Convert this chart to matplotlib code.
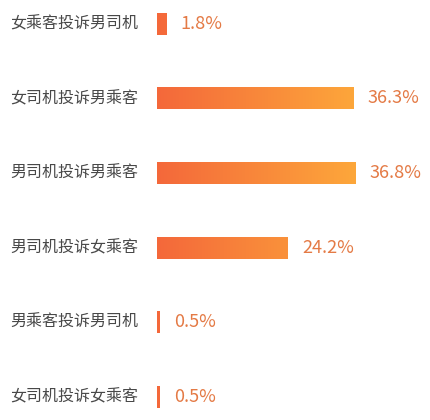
import numpy as np
import matplotlib
matplotlib.use("Agg")
import matplotlib.pyplot as plt
from matplotlib.colors import LinearSegmentedColormap

plt.rcParams['font.family'] = ['Noto Sans CJK SC', 'DejaVu Sans']

# data
categories = ['女乘客投诉男司机', '女司机投诉男乘客', '男司机投诉男乘客',
              '男司机投诉女乘客', '男乘客投诉男司机', '女司机投诉女乘客']
values = [1.8, 36.3, 36.8, 24.2, 0.5, 0.5]
value_labels = ['1.8%', '36.3%', '36.8%', '24.2%', '0.5%', '0.5%']

fig = plt.figure(figsize=(4.3, 4.2), dpi=100)
ax = fig.add_axes([157 / 430, 0, 1 - 157 / 430, 1])
ax.axis('off')

cmap = LinearSegmentedColormap.from_list('grad', ['#f4683a', '#fda73b'])
grad = np.linspace(0, 1, 256).reshape(1, -1)

y = np.arange(len(categories))
h = 0.295
bars = ax.barh(y, values, height=h, color='none', edgecolor='none')
for b, v in zip(bars, values):
    # gradient spans the longest bar, clipped to each bar
    img = ax.imshow(grad, cmap=cmap, aspect='auto',
                    extent=[0, max(values), b.get_y() + h, b.get_y()],
                    interpolation='bilinear')
    img.set_clip_path(b)

for yi, v, lab, cat in zip(y, values, value_labels, categories):
    ax.text(v + 2.6, yi, lab, va='center', ha='left', fontsize=13,
            color='#e47a45')
    ax.text(-3.4, yi, cat, va='center', ha='right', fontsize=11.5,
            color='#484848', clip_on=False)

ax.set_xlim(0, 50.5)
ax.set_ylim(5.31, -0.32)
fig.savefig('out.png', dpi=100)
